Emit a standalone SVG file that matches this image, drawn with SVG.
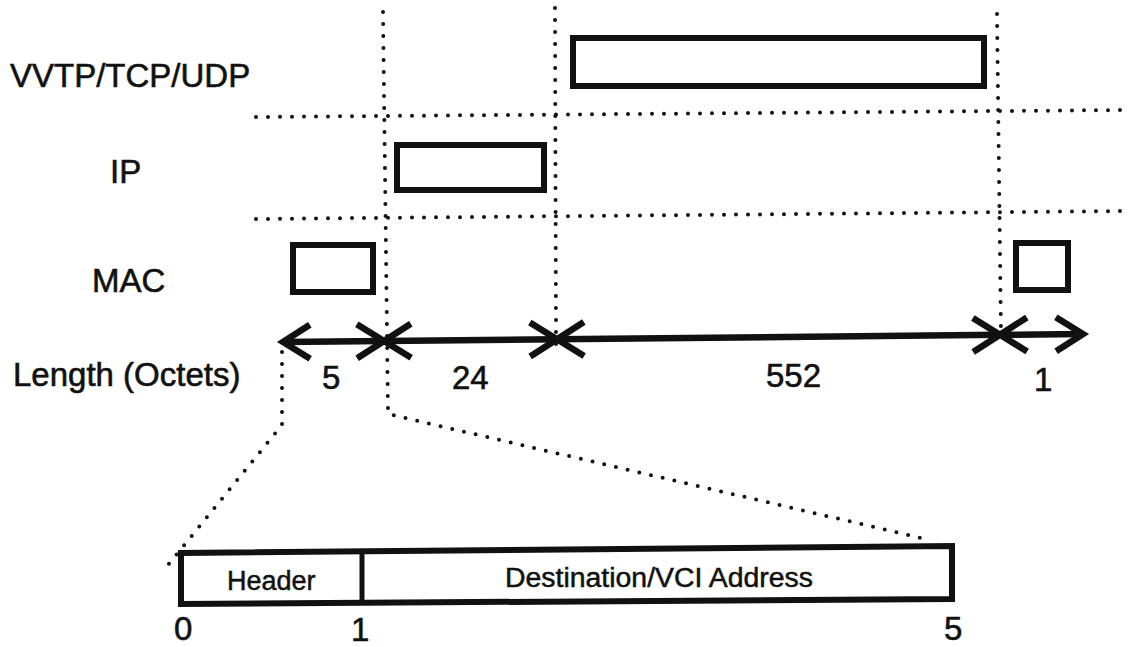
<svg xmlns="http://www.w3.org/2000/svg" width="1128" height="647" viewBox="0 0 1128 647">
  <style>
    .lbl { font-family: "Liberation Sans", Arial, Helvetica, sans-serif; font-size: 33px; fill: #111; stroke: #111; stroke-width: 0.6; }
    .small { font-family: "Liberation Sans", Arial, Helvetica, sans-serif; font-size: 27px; fill: #111; stroke: #111; stroke-width: 0.5; }
    .box { fill: #fff; stroke: #111; stroke-width: 6; }
    .dot { fill: none; stroke: #111; stroke-width: 4; stroke-linecap: round; stroke-dasharray: 0 12; }
    .dim { stroke: #111; stroke-width: 6.5; fill: none; marker-start: url(#chev); marker-end: url(#chev); }
  </style>
  <defs>
    <marker id="chev" markerUnits="userSpaceOnUse" markerWidth="40" markerHeight="40" refX="0" refY="0" viewBox="-32 -20 36 40" orient="auto-start-reverse" overflow="visible">
      <path d="M -27 -17 L 0 0 L -27 17" fill="none" stroke="#111" stroke-width="6.5" stroke-linejoin="miter"/>
    </marker>
  </defs>
  <rect width="1128" height="647" fill="#fff"/>

  <g id="connectors">
    <polyline class="dot" points="256,117 1128,110"/>
    <polyline class="dot" points="256,219 1128,211"/>
    <polyline class="dot" points="383,12 388,414 930,540"/>
    <polyline class="dot" points="555,8 556,345"/>
    <polyline class="dot" points="997,14 1001,335"/>
    <polyline class="dot" points="282,352 282,425 168,565"/>
    <line class="dim" x1="283" y1="342" x2="384" y2="341"/>
    <line class="dim" x1="384" y1="341" x2="557" y2="339.3"/>
    <line class="dim" x1="557" y1="339.3" x2="1000" y2="334.8"/>
    <line class="dim" x1="1000" y1="334.8" x2="1083" y2="334"/>
  </g>

  <g id="layer-labels">
    <text class="lbl" x="10" y="87">VVTP/TCP/UDP</text>
    <text class="lbl" x="110" y="183">IP</text>
    <text class="lbl" x="92" y="292">MAC</text>
    <text class="lbl" x="13" y="386">Length (Octets)</text>
  </g>

  <g id="node-vvtp">
    <rect class="box" x="573" y="38" width="411" height="48"/>
  </g>
  <g id="node-ip">
    <rect class="box" x="397" y="145" width="147" height="45"/>
  </g>
  <g id="node-mac-header">
    <rect class="box" x="293" y="245" width="80" height="47"/>
  </g>
  <g id="node-mac-trailer">
    <rect class="box" x="1016" y="243" width="52" height="47"/>
  </g>

  <g id="lengths">
    <text class="lbl" x="322" y="389">5</text>
    <text class="lbl" x="452" y="389">24</text>
    <text class="lbl" x="766" y="387">552</text>
    <text class="lbl" x="1034" y="391">1</text>
  </g>

  <g id="node-mac-detail">
    <polygon class="box" points="181,553 952,546 952,599 181,604"/>
    <line x1="362" y1="552" x2="362" y2="604" stroke="#111" stroke-width="5"/>
    <text class="small" x="227" y="590">Header</text>
    <text class="small" x="505" y="587" textLength="308" lengthAdjust="spacingAndGlyphs">Destination/VCI Address</text>
    <text class="lbl" x="174" y="640">0</text>
    <text class="lbl" x="351" y="641">1</text>
    <text class="lbl" x="944" y="640">5</text>
  </g>
</svg>
